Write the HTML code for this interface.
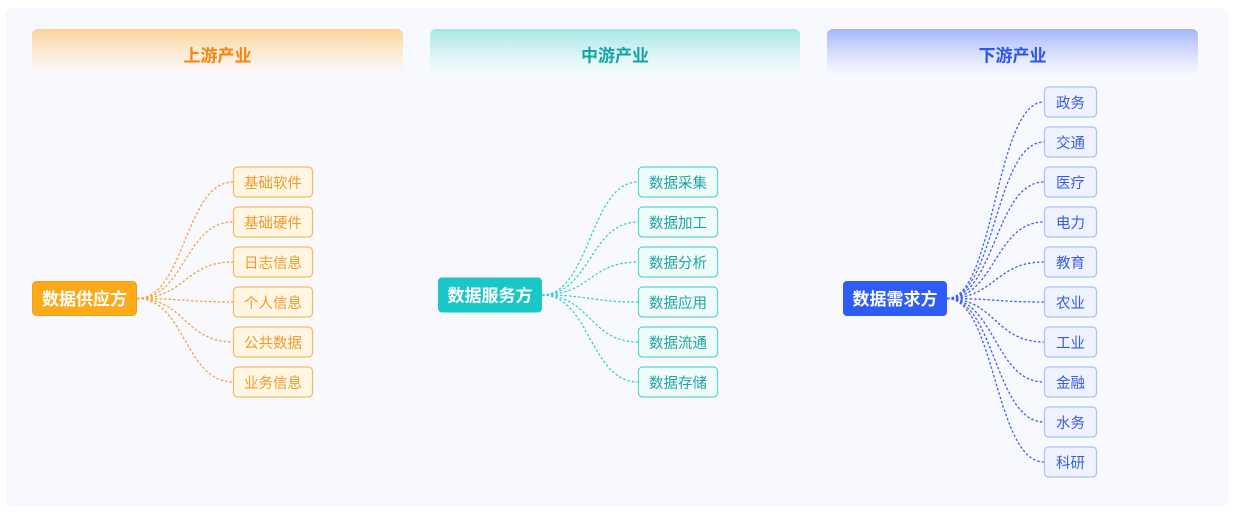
<!DOCTYPE html>
<html>
<head>
<meta charset="utf-8">
<style>
  html,body{margin:0;padding:0;background:#ffffff;}
  body{width:1234px;height:513px;overflow:hidden;}
  svg{display:block;}
  text{font-family:"Liberation Sans","Noto Sans CJK SC",sans-serif;}
</style>
</head>
<body>
<svg width="1234" height="513" viewBox="0 0 1234 513" xmlns="http://www.w3.org/2000/svg">
  <defs>
    <linearGradient id="gO" x1="0" y1="0" x2="0" y2="1">
      <stop offset="0" stop-color="#fcd296"/>
      <stop offset="1" stop-color="#fbf8f4" stop-opacity="0.6"/>
    </linearGradient>
    <linearGradient id="gT" x1="0" y1="0" x2="0" y2="1">
      <stop offset="0" stop-color="#a5e6e5"/>
      <stop offset="1" stop-color="#f3fbfb" stop-opacity="0.6"/>
    </linearGradient>
    <linearGradient id="gB" x1="0" y1="0" x2="0" y2="1">
      <stop offset="0" stop-color="#a3b4fa"/>
      <stop offset="1" stop-color="#f3f5fe" stop-opacity="0.6"/>
    </linearGradient>
  </defs>

  <!-- panel -->
  <rect x="5" y="8" width="1224" height="499" rx="8" fill="#f8f9fe"/>

  <!-- headers -->
  <rect x="32" y="29" width="371" height="45" rx="6" fill="url(#gO)"/>
  <rect x="430" y="29" width="370" height="45" rx="6" fill="url(#gT)"/>
  <rect x="827" y="29" width="371" height="45" rx="6" fill="url(#gB)"/>
  <text x="217.5" y="61.5" font-size="17" font-weight="bold" fill="#f5850f" text-anchor="middle">上游产业</text>
  <text x="615" y="61.5" font-size="17" font-weight="bold" fill="#14a4a3" text-anchor="middle">中游产业</text>
  <text x="1012.5" y="61.5" font-size="17" font-weight="bold" fill="#2b55ee" text-anchor="middle">下游产业</text>

  <!-- connectors left -->
  <g fill="none" stroke="#f6a13c" stroke-width="1.3" stroke-dasharray="2.5 2">
    <path d="M137 298.5 C185 298.5,185 182,233 182"/>
    <path d="M137 298.5 C185 298.5,185 222,233 222"/>
    <path d="M137 298.5 C185 298.5,185 262,233 262"/>
    <path d="M137 298.5 C185 298.5,185 302,233 302"/>
    <path d="M137 298.5 C185 298.5,185 342,233 342"/>
    <path d="M137 298.5 C185 298.5,185 382,233 382"/>
  </g>
  <!-- connectors middle -->
  <g fill="none" stroke="#3ccdcd" stroke-width="1.3" stroke-dasharray="2.5 2">
    <path d="M542 295 C590 295,590 182,638 182"/>
    <path d="M542 295 C590 295,590 222,638 222"/>
    <path d="M542 295 C590 295,590 262,638 262"/>
    <path d="M542 295 C590 295,590 302,638 302"/>
    <path d="M542 295 C590 295,590 342,638 342"/>
    <path d="M542 295 C590 295,590 382,638 382"/>
  </g>
  <!-- connectors right -->
  <g fill="none" stroke="#3a60ee" stroke-width="1.3" stroke-dasharray="2.5 2">
    <path d="M947 298.5 C995 298.5,995 102,1044 102"/>
    <path d="M947 298.5 C995 298.5,995 142,1044 142"/>
    <path d="M947 298.5 C995 298.5,995 182,1044 182"/>
    <path d="M947 298.5 C995 298.5,995 222,1044 222"/>
    <path d="M947 298.5 C995 298.5,995 262,1044 262"/>
    <path d="M947 298.5 C995 298.5,995 302,1044 302"/>
    <path d="M947 298.5 C995 298.5,995 342,1044 342"/>
    <path d="M947 298.5 C995 298.5,995 382,1044 382"/>
    <path d="M947 298.5 C995 298.5,995 422,1044 422"/>
    <path d="M947 298.5 C995 298.5,995 462,1044 462"/>
  </g>

  <!-- roots -->
  <rect x="32.5" y="281.5" width="104" height="34" rx="4" fill="#fbab19" stroke="#f49c14" stroke-width="1"/>
  <text x="84.5" y="305" font-size="17" font-weight="bold" fill="#ffffff" text-anchor="middle">数据供应方</text>

  <rect x="438" y="277.5" width="104" height="35" rx="4" fill="#1bc7c6"/>
  <text x="490" y="301.5" font-size="17" font-weight="bold" fill="#ffffff" text-anchor="middle">数据服务方</text>

  <rect x="843" y="281" width="104" height="35" rx="4" fill="#2e5cf4"/>
  <text x="895" y="305" font-size="17" font-weight="bold" fill="#ffffff" text-anchor="middle">数据需求方</text>

  <!-- left leaves -->
  <g font-size="14.5" text-anchor="middle" fill="#f39a2a">
    <g fill="#fff7e4" stroke="#fbbb5c" stroke-width="1.2">
      <rect x="233.5" y="167" width="79" height="30" rx="4"/>
      <rect x="233.5" y="207" width="79" height="30" rx="4"/>
      <rect x="233.5" y="247" width="79" height="30" rx="4"/>
      <rect x="233.5" y="287" width="79" height="30" rx="4"/>
      <rect x="233.5" y="327" width="79" height="30" rx="4"/>
      <rect x="233.5" y="367" width="79" height="30" rx="4"/>
    </g>
    <text x="273" y="188">基础软件</text>
    <text x="273" y="228">基础硬件</text>
    <text x="273" y="268">日志信息</text>
    <text x="273" y="308">个人信息</text>
    <text x="273" y="348">公共数据</text>
    <text x="273" y="388">业务信息</text>
  </g>

  <!-- middle leaves -->
  <g font-size="14.5" text-anchor="middle" fill="#20a5a5">
    <g fill="#effcfa" stroke="#5cd5d4" stroke-width="1.2">
      <rect x="638.5" y="167" width="79" height="30" rx="4"/>
      <rect x="638.5" y="207" width="79" height="30" rx="4"/>
      <rect x="638.5" y="247" width="79" height="30" rx="4"/>
      <rect x="638.5" y="287" width="79" height="30" rx="4"/>
      <rect x="638.5" y="327" width="79" height="30" rx="4"/>
      <rect x="638.5" y="367" width="79" height="30" rx="4"/>
    </g>
    <text x="678" y="188">数据采集</text>
    <text x="678" y="228">数据加工</text>
    <text x="678" y="268">数据分析</text>
    <text x="678" y="308">数据应用</text>
    <text x="678" y="348">数据流通</text>
    <text x="678" y="388">数据存储</text>
  </g>

  <!-- right leaves -->
  <g font-size="14.5" text-anchor="middle" fill="#3a5be6">
    <g fill="#eef3ff" stroke="#a9c0fb" stroke-width="1.2">
      <rect x="1044.5" y="87" width="52" height="30" rx="4"/>
      <rect x="1044.5" y="127" width="52" height="30" rx="4"/>
      <rect x="1044.5" y="167" width="52" height="30" rx="4"/>
      <rect x="1044.5" y="207" width="52" height="30" rx="4"/>
      <rect x="1044.5" y="247" width="52" height="30" rx="4"/>
      <rect x="1044.5" y="287" width="52" height="30" rx="4"/>
      <rect x="1044.5" y="327" width="52" height="30" rx="4"/>
      <rect x="1044.5" y="367" width="52" height="30" rx="4"/>
      <rect x="1044.5" y="407" width="52" height="30" rx="4"/>
      <rect x="1044.5" y="447" width="52" height="30" rx="4"/>
    </g>
    <text x="1070.5" y="108">政务</text>
    <text x="1070.5" y="148">交通</text>
    <text x="1070.5" y="188">医疗</text>
    <text x="1070.5" y="228">电力</text>
    <text x="1070.5" y="268">教育</text>
    <text x="1070.5" y="308">农业</text>
    <text x="1070.5" y="348">工业</text>
    <text x="1070.5" y="388">金融</text>
    <text x="1070.5" y="428">水务</text>
    <text x="1070.5" y="468">科研</text>
  </g>
</svg>
</body>
</html>
